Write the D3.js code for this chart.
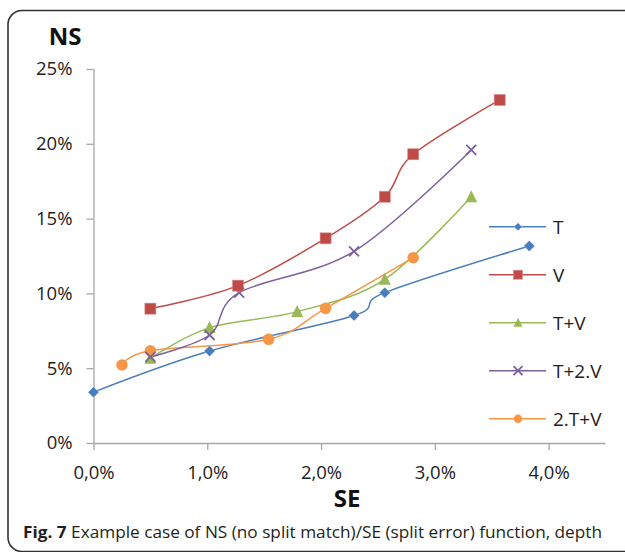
<!DOCTYPE html>
<html><head><meta charset="utf-8">
<script src="https://cdn.jsdelivr.net/npm/d3@7"></script>
<style>body{margin:0;background:#fff}svg{display:block}</style>
</head><body><svg id="c" width="625" height="552"></svg>
<script>
const seriesNames = ["T", "V", "T+V", "T+2.V", "2.T+V"];
const seriesColors = ["#4a7ebb", "#be4b48", "#98b954", "#7d60a0", "#f79646"];
const seriesMarkers = ["diamond", "square", "triangle", "x", "circle"];
const seT   = [0.00, 1.02, 2.29, 2.56, 3.83];
const nsT   = [3.40, 6.15, 8.52, 10.05, 13.17];
const seV   = [0.50, 1.27, 2.04, 2.56, 2.81, 3.57];
const nsV   = [8.98, 10.52, 13.68, 16.46, 19.30, 22.93];
const seTV  = [0.50, 1.02, 1.79, 2.56, 3.32];
const nsTV  = [5.66, 7.71, 8.78, 10.94, 16.46];
const seT2V = [0.50, 1.02, 1.28, 2.29, 3.32];
const nsT2V = [5.75, 7.22, 10.05, 12.81, 19.59];
const se2TV = [0.25, 0.50, 1.54, 2.04, 2.81];
const ns2TV = [5.21, 6.17, 6.93, 9.00, 12.39];
const xTicks = [0, 1, 2, 3, 4];
const xTickLabels = ["0,0%", "1,0%", "2,0%", "3,0%", "4,0%"];
const yTicks = [0, 5, 10, 15, 20, 25];
const yTickLabels = ["0%", "5%", "10%", "15%", "20%", "25%"];

const seriesData = [[seT, nsT], [seV, nsV], [seTV, nsTV], [seT2V, nsT2V], [se2TV, ns2TV]]
  .map(([xs, ys]) => xs.map((x, i) => ({x, y: ys[i]})));

const svg = d3.select("#c");
const x = d3.scaleLinear().domain([0, 4.5]).range([93.5, 605.5]);
const y = d3.scaleLinear().domain([0, 25]).range([443, 69]);
const font = "'Open Sans', sans-serif";
const axisColor = "#a6a6a6";

// frame
svg.append("rect").attr("x", 8).attr("y", 10.5).attr("width", 650).attr("height", 541)
  .attr("rx", 14).attr("fill", "none").attr("stroke", "#333").attr("stroke-width", 1.6);

// axes
const yAxis = svg.append("g").attr("transform", "translate(93.5,0)")
  .call(d3.axisLeft(y).tickValues(yTicks).tickSize(7).tickPadding(14).tickFormat((d, i) => yTickLabels[i]));
const xAxis = svg.append("g").attr("transform", "translate(0,443)")
  .call(d3.axisBottom(x).tickValues(xTicks).tickSize(7).tickPadding(16).tickFormat((d, i) => xTickLabels[i]));
[xAxis, yAxis].forEach(a => {
  a.select(".domain").attr("stroke", axisColor).attr("stroke-width", 1.3);
  a.selectAll(".tick line").attr("stroke", axisColor).attr("stroke-width", 1.3);
  a.selectAll(".tick text").attr("fill", "#222").style("font-family", font).style("font-size", "18.5px");
});
xAxis.select(".domain").attr("d", `M${x(0)},0.5H${x(4.5)}`);
yAxis.select(".domain").attr("d", `M0.5,${y(25)}V${y(0)}`);

// axis titles
svg.append("text").attr("x", 65).attr("y", 45).attr("text-anchor", "middle")
  .style("font-family", font).style("font-weight", "bold").style("font-size", "24px").attr("fill", "#111").text("NS");
svg.append("text").attr("x", 347).attr("y", 507).attr("text-anchor", "middle")
  .style("font-family", font).style("font-weight", "bold").style("font-size", "24px").attr("fill", "#111").text("SE");

// markers
function marker(g, type, color, s) {
  if (type === "diamond") g.append("path").attr("d", `M0,${-s/2}L${s/2},0L0,${s/2}L${-s/2},0Z`).attr("fill", color).attr("stroke", "#fff").attr("stroke-width", 0.6).attr("stroke-opacity", 0.5);
  else if (type === "square") g.append("rect").attr("x", -s/2).attr("y", -s/2).attr("width", s).attr("height", s).attr("fill", color).attr("stroke", "#d88").attr("stroke-width", 0.6);
  else if (type === "triangle") g.append("path").attr("d", `M0,${-s*0.55}L${s/2},${s*0.45}L${-s/2},${s*0.45}Z`).attr("fill", color);
  else if (type === "x") g.append("path").attr("d", `M${-s/2},${-s/2}L${s/2},${s/2}M${-s/2},${s/2}L${s/2},${-s/2}`).attr("stroke", color).attr("stroke-width", 1.8);
  else g.append("circle").attr("r", s/2).attr("fill", color);
}
const markerSize = [11, 11, 12, 10, 11.5];
const legendSize = [8, 9, 9, 9, 8.5];

const line = d3.line().x(d => x(d.x)).y(d => y(d.y)).curve(d3.curveCardinal.tension(0));
const lineOrder = [0, 2, 4, 3, 1];
lineOrder.forEach(i => {
  svg.append("path").datum(seriesData[i]).attr("d", line).attr("fill", "none")
    .attr("stroke", seriesColors[i]).attr("stroke-width", 1.5);
});
lineOrder.forEach(i => {
  svg.append("g").selectAll("g").data(seriesData[i]).join("g")
    .attr("transform", d => `translate(${x(d.x)},${y(d.y)})`)
    .each(function() { marker(d3.select(this), seriesMarkers[i], seriesColors[i], markerSize[i]); });
});

// legend
seriesNames.forEach((n, i) => {
  const ly = 226.7 + i * 48;
  const g = svg.append("g");
  g.append("line").attr("x1", 489).attr("x2", 546).attr("y1", ly).attr("y2", ly)
    .attr("stroke", seriesColors[i]).attr("stroke-width", 1.5);
  const m = g.append("g").attr("transform", `translate(518,${ly})`);
  marker(m, seriesMarkers[i], seriesColors[i], legendSize[i]);
  g.append("text").attr("x", 553).attr("y", ly + 7).style("font-family", font).style("font-size", "19px")
    .attr("fill", "#222").text(n);
});

// caption
const cap = svg.append("text").attr("x", 23).attr("y", 538).style("font-family", font)
  .style("font-size", "16.5px").attr("fill", "#231f20")
  .attr("textLength", 579).attr("lengthAdjust", "spacingAndGlyphs");
cap.append("tspan").style("font-weight", "bold").text("Fig. 7");
cap.append("tspan").text(" Example case of NS (no split match)/SE (split error) function, depth");
</script></body></html>
